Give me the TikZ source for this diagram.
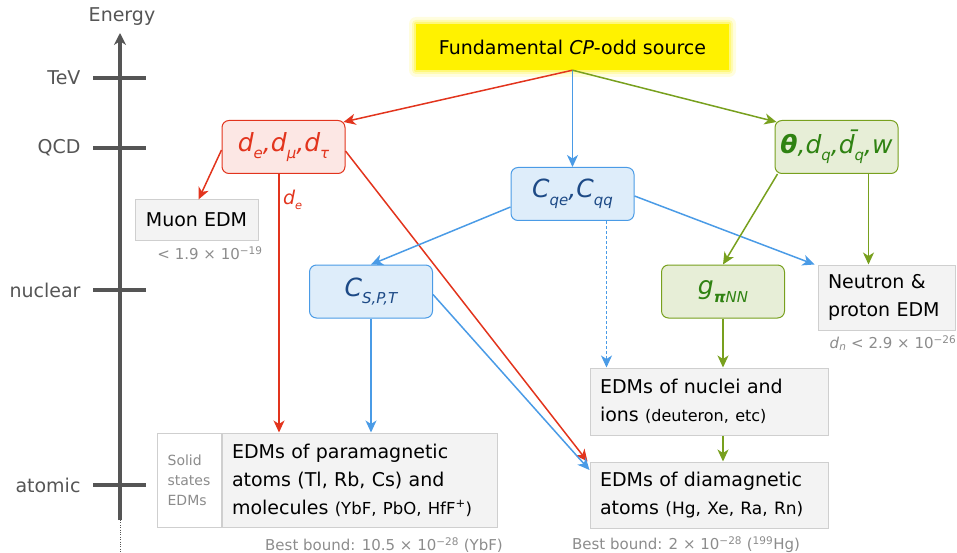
\documentclass[tikz,border=0pt]{standalone}
\usepackage{fontspec}
\setmainfont{DejaVu Sans}
\usetikzlibrary{arrows.meta}

\definecolor{edmred}{HTML}{E2341D}
\definecolor{edmblue}{HTML}{4A9BE6}
\definecolor{edmgreen}{HTML}{78A01E}
\definecolor{darkgreen}{HTML}{2F8212}
\definecolor{darkblue}{HTML}{1D4A86}
\definecolor{axisgray}{HTML}{555555}
\definecolor{boundgray}{HTML}{8C8C8C}
\definecolor{boxgray}{HTML}{F3F3F3}
\definecolor{edgegray}{HTML}{CFCFCF}

\newcommand{\lowr}[1]{\raisebox{-0.3em}{\scalebox{0.6}{#1}}}

\begin{document}
\begin{tikzpicture}[x=1pt, y=-1pt, font=\fontsize{19}{28}\selectfont,
    >={Stealth[length=12pt, width=11pt, inset=3.5pt]}]
    \useasboundingbox (0,0) rectangle (957,553);
    % Define the styles for each node
    \tikzstyle{level} = [text=axisgray, anchor=east, font=\fontsize{19}{22}\selectfont]
    \tikzstyle{tick} = [draw=axisgray, line width=3.5pt]
    \tikzstyle{param} = [rectangle, rounded corners=7pt, line width=1pt, minimum width=123pt, minimum height=53pt, font=\fontsize{25}{26}\selectfont\itshape]
    \tikzstyle{redbox} = [param, draw=edmred, fill=edmred!12, text=edmred]
    \tikzstyle{bluebox} = [param, draw=edmblue, fill=edmblue!18, text=darkblue]
    \tikzstyle{greenbox} = [param, draw=edmgreen, fill=edmgreen!18, text=darkgreen]
    \tikzstyle{result} = [rectangle, draw=edgegray, fill=boxgray, line width=1pt, align=left, inner xsep=10pt]
    \tikzstyle{bound} = [text=boundgray, font=\fontsize{15}{17}\selectfont]
    \tikzstyle{redarrow} = [->, draw=edmred, line width=1.5pt]
    \tikzstyle{bluearrow} = [->, draw=edmblue, line width=1.5pt]
    \tikzstyle{greenarrow} = [->, draw=edmgreen, line width=1.5pt]

    % Energy axis
    \draw [->, draw=axisgray, line width=3.5pt, >={Stealth[length=12pt, width=12pt]}] (120,520) -- (120,33);
    \draw [dotted, draw=axisgray] (120,520) -- (120,553);
    \node [text=axisgray, font=\fontsize{19}{22}\selectfont] (energy) at (122,17) {Energy};
    \node [level] (tev) at (84,78) {TeV};
    \node [level] (qcd) at (84,148) {QCD};
    \node [level] (nuclear) at (84,290) {nuclear};
    \node [level] (atomic) at (84,485) {atomic};
    \foreach \y in {78,148,290,485}
        \draw [tick] (93,\y) -- (146,\y);

    % Create the node for the source
    \foreach \g/\o in {7/0.15,4/0.25,2/0.4}
        \fill [yellow!85!white, opacity=\o, rounded corners=\g pt] (416-\g,24-\g) rectangle (729+\g,70+\g);
    \node [rectangle, fill=yellow, minimum width=313pt, minimum height=46pt] (source) at (572.5,47) {Fundamental \textit{CP}-odd source};

    % Create the nodes for the couplings
    \node [redbox] (lepton) at (283.5,147) {d\lowr{e},d\lowr{μ},d\lowr{τ}};
    \node [bluebox] (cq) at (572.5,194) {C\lowr{qe},C\lowr{qq}};
    \node [greenbox] (hadron) at (836.5,147) {\textbf{θ},d\lowr{q},\={d}\lowr{q},w};
    \node [bluebox] (cspt) at (371,291.5) {C\lowr{S,P,T}};
    \node [greenbox] (gpinn) at (723,291.5) {g\lowr{\textbf{π}NN}};

    % Create the nodes for the observables
    \node [result, minimum width=123pt, minimum height=40pt, align=center] (muon) at (196.5,220) {Muon EDM};
    \node [bound] (muonbound) at (210,253) {< 1.9 × 10\textsuperscript{−19}};
    \node [result, text width=117pt, minimum height=65pt] (neutron) at (886.5,297.5) {Neutron \&\\proton EDM};
    \node [bound] (neutronbound) at (893,343) {\textit{d}\textsubscript{\textit{n}} < 2.9 × 10\textsuperscript{−26}};
    \node [result, text width=218pt, minimum height=67pt] (nuclei) at (709,401.5) {EDMs of nuclei and\\ions {\fontsize{16}{20}\selectfont(deuteron, etc)}};
    \node [result, text width=218pt, minimum height=66pt] (diamag) at (709,495) {EDMs of diamagnetic\\atoms {\fontsize{17}{20}\selectfont(Hg, Xe, Ra, Rn)}};
    \node [bound] (diabound) at (686,545) {Best bound: 2 × 10\textsuperscript{−28} (\textsuperscript{199}Hg)};
    \node [result, text width=255pt, minimum height=94pt] (para) at (359.5,480) {EDMs of paramagnetic\\atoms (Tl, Rb, Cs) and\\molecules {\fontsize{16.5}{20}\selectfont(YbF, PbO, HfF\textsuperscript{+})}};
    \node [rectangle, draw=edgegray, fill=white, line width=1pt, minimum width=64pt, minimum height=94pt, anchor=east, align=left, inner xsep=6pt, text=boundgray, font=\fontsize{14}{20}\selectfont] (solid) at (para.west) {Solid\\states\\EDMs};
    \node [bound] (parabound) at (384,545) {Best bound: 10.5 × 10\textsuperscript{−28} (YbF)};

    % Draw the arrows between the nodes
    \draw [redarrow] (source.south) -- ([xshift=-2pt, yshift=-2pt]lepton.north east);
    \draw [bluearrow] (source.south) -- (cq.north);
    \draw [greenarrow] (source.south) -- ([xshift=2pt, yshift=-2pt]hadron.north west);
    \draw [redarrow] ([yshift=-3pt]lepton.west) -- ([xshift=2pt]muon.north);
    \draw [redarrow] ([xshift=-4.5pt]lepton.south) -- node [right, pos=0.1, text=edmred, font=\fontsize{19}{20}\selectfont\itshape] (delabel) {d\lowr{e}} ([xshift=-4.5pt]lepton.south |- para.north);
    \draw [redarrow] ([yshift=-4pt]lepton.east) -- ([xshift=-2pt]diamag.north west);
    \draw [bluearrow] ([yshift=-13pt]cq.west) -- (cspt.north);
    \draw [bluearrow, densely dashed, line width=1pt] ([xshift=34pt]cq.south) -- ([xshift=34pt]cq.south |- nuclei.north);
    \draw [bluearrow] ([yshift=-2pt]cq.east) -- ([xshift=-3pt]neutron.north west);
    \draw [bluearrow] (cspt.south) -- (cspt.south |- para.north);
    \draw [bluearrow] ([yshift=-3pt]cspt.east) -- ([yshift=25pt]diamag.west);
    \draw [greenarrow] ([xshift=3pt]hadron.south west) -- (gpinn.north);
    \draw [greenarrow] ([xshift=32pt]hadron.south) -- ([xshift=32pt]hadron.south |- neutron.north);
    \draw [greenarrow] (gpinn.south) -- (gpinn.south |- nuclei.north);
    \draw [greenarrow] ([xshift=14pt]nuclei.south) -- ([xshift=14pt]diamag.north);
\end{tikzpicture}
\end{document}
